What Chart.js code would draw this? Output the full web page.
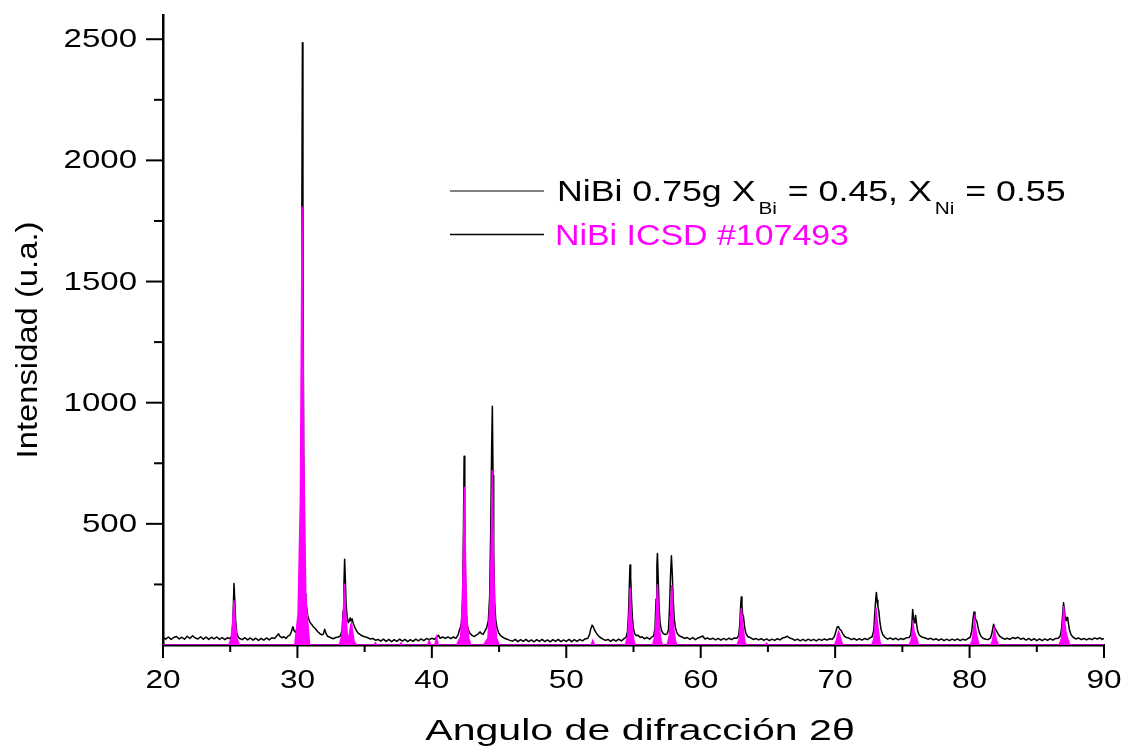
<!DOCTYPE html>
<html>
<head>
<meta charset="utf-8">
<script src="https://cdn.jsdelivr.net/npm/chart.js@4.4.1/dist/chart.umd.min.js"></script>
<style>
  html, body { margin: 0; padding: 0; background: #fff; }
  #wrap { width: 1132px; height: 750px; }
</style>
</head>
<body>
<div id="wrap"><canvas id="chartDrx" width="1132" height="750"></canvas></div>
<script>
// difractograma medido (2theta, intensidad)
const experimental = [
  [20.0,32],[20.2,24],[20.4,33],[20.6,23],[20.8,31],[21.0,35],[21.2,25],[21.4,32],[21.6,24],[21.8,36],
  [22.0,27],[22.2,38],[22.4,29],[22.6,25],[22.8,34],[23.0,24],[23.2,33],[23.4,23],[23.6,32],[23.8,25],
  [24.0,33],[24.2,23],[24.4,31],[24.6,22],[24.8,30],[25.0,26],[25.12,38],[25.2,95],[25.28,254],[25.34,185],
  [25.4,105],[25.48,52],[25.58,34],[25.7,27],[25.9,22],[26.1,30],[26.3,21],[26.5,29],[26.7,20],[26.9,28],
  [27.1,19],[27.3,27],[27.5,20],[27.7,29],[27.9,21],[28.1,30],[28.3,27],[28.5,40],[28.6,46],[28.7,36],
  [28.85,30],[29.0,34],[29.15,27],[29.3,37],[29.45,42],[29.55,55],[29.66,75],[29.75,60],[29.85,52],[29.95,62],
  [30.05,80],[30.15,130],[30.22,300],[30.28,850],[30.33,1800],[30.37,2485],[30.41,1750],[30.46,800],[30.52,360],[30.58,210],
  [30.63,172],[30.7,150],[30.77,120],[30.84,107],[30.95,92],[31.05,86],[31.2,74],[31.35,66],[31.5,56],[31.65,48],
  [31.8,42],[31.92,44],[32.03,65],[32.12,48],[32.25,36],[32.45,31],[32.65,26],[32.85,31],[33.05,33],[33.2,38],
  [33.32,60],[33.4,140],[33.46,250],[33.51,354],[33.56,280],[33.62,170],[33.7,115],[33.78,92],[33.86,100],[33.93,112],
  [34.0,98],[34.07,108],[34.15,90],[34.25,75],[34.38,60],[34.5,50],[34.65,44],[34.8,38],[35.0,34],[35.2,31],
  [35.4,25],[35.6,27],[35.8,20],[36.0,23],[36.2,16],[36.4,24],[36.6,15],[36.8,23],[37.0,14],[37.2,22],
  [37.4,15],[37.6,24],[37.8,16],[38.0,23],[38.2,14],[38.4,22],[38.6,15],[38.8,24],[39.0,17],[39.2,25],
  [39.4,18],[39.6,27],[39.8,22],[40.0,28],[40.2,24],[40.4,35],[40.5,40],[40.6,28],[40.8,33],[41.0,27],
  [41.2,34],[41.4,26],[41.6,33],[41.8,28],[41.95,42],[42.05,62],[42.12,72],[42.2,90],[42.28,180],[42.34,420],
  [42.4,779],[42.45,560],[42.5,260],[42.56,130],[42.64,80],[42.74,58],[42.85,47],[43.0,40],[43.15,35],[43.3,41],
  [43.45,46],[43.58,54],[43.7,47],[43.82,44],[43.95,58],[44.08,72],[44.2,100],[44.3,200],[44.38,480],[44.45,820],
  [44.5,985],[44.55,700],[44.6,380],[44.67,180],[44.75,105],[44.85,70],[44.97,50],[45.1,40],[45.25,33],[45.4,28],
  [45.6,24],[45.8,19],[46.0,16],[46.2,23],[46.4,14],[46.6,22],[46.8,15],[47.0,23],[47.2,14],[47.4,21],
  [47.6,13],[47.8,22],[48.0,15],[48.2,23],[48.4,14],[48.6,21],[48.8,13],[49.0,22],[49.2,15],[49.4,23],
  [49.6,14],[49.8,21],[50.0,15],[50.2,23],[50.4,14],[50.6,22],[50.8,15],[51.0,23],[51.2,17],[51.4,25],
  [51.6,28],[51.72,42],[51.82,66],[51.92,82],[52.0,76],[52.1,62],[52.2,52],[52.35,40],[52.5,32],[52.7,25],
  [52.9,19],[53.1,23],[53.3,15],[53.5,23],[53.7,16],[53.9,24],[54.1,17],[54.3,26],[54.45,32],[54.55,55],
  [54.63,130],[54.7,260],[54.74,330],[54.79,280],[54.85,190],[54.92,110],[55.0,65],[55.1,45],[55.22,38],[55.35,40],
  [55.5,31],[55.65,34],[55.8,26],[56.0,31],[56.2,24],[56.35,32],[56.5,38],[56.6,70],[56.68,190],[56.74,330],
  [56.78,378],[56.83,290],[56.9,160],[56.98,90],[57.08,60],[57.2,48],[57.35,43],[57.5,46],[57.6,62],[57.68,150],
  [57.75,280],[57.82,368],[57.88,300],[57.95,190],[58.03,110],[58.12,70],[58.25,48],[58.4,38],[58.6,33],[58.8,27],
  [59.0,31],[59.2,23],[59.4,31],[59.6,22],[59.8,29],[60.0,33],[60.15,37],[60.3,25],[60.5,29],[60.7,23],
  [60.9,28],[61.1,21],[61.3,27],[61.5,20],[61.7,27],[61.9,21],[62.1,28],[62.3,22],[62.5,29],[62.7,28],
  [62.82,40],[62.9,80],[62.97,160],[63.02,198],[63.07,160],[63.12,125],[63.18,118],[63.25,80],[63.35,50],[63.5,35],
  [63.7,30],[63.9,23],[64.1,27],[64.3,21],[64.5,26],[64.7,19],[64.9,25],[65.1,18],[65.3,24],[65.5,19],
  [65.7,26],[65.9,21],[66.1,29],[66.3,32],[66.45,36],[66.6,29],[66.8,26],[67.0,19],[67.2,24],[67.4,17],
  [67.6,23],[67.8,17],[68.0,24],[68.2,18],[68.4,23],[68.6,17],[68.8,24],[69.0,19],[69.2,25],[69.4,20],
  [69.6,26],[69.8,24],[69.95,36],[70.05,55],[70.15,74],[70.25,76],[70.35,64],[70.45,60],[70.55,48],[70.7,36],
  [70.85,31],[71.0,29],[71.2,22],[71.4,27],[71.6,20],[71.8,26],[72.0,20],[72.2,27],[72.4,22],[72.6,29],
  [72.75,34],[72.87,60],[72.95,130],[73.02,190],[73.07,217],[73.12,185],[73.18,160],[73.25,140],[73.32,100],[73.42,62],
  [73.55,42],[73.7,32],[73.9,24],[74.1,29],[74.3,22],[74.5,28],[74.7,21],[74.9,27],[75.1,23],[75.3,30],
  [75.5,31],[75.62,42],[75.7,80],[75.77,147],[75.83,110],[75.88,92],[75.94,105],[75.99,122],[76.05,90],[76.12,62],
  [76.22,45],[76.35,36],[76.5,32],[76.7,29],[76.9,24],[77.1,28],[77.3,21],[77.5,26],[77.7,19],[77.9,25],
  [78.1,18],[78.3,24],[78.5,18],[78.7,24],[78.9,19],[79.1,25],[79.3,18],[79.5,24],[79.7,20],[79.9,27],
  [80.05,32],[80.17,60],[80.26,110],[80.33,136],[80.4,118],[80.47,104],[80.55,96],[80.62,75],[80.72,52],[80.85,36],
  [81.0,28],[81.2,24],[81.4,23],[81.55,28],[81.65,45],[81.73,70],[81.79,86],[81.85,74],[81.92,66],[82.0,58],
  [82.1,48],[82.22,38],[82.4,30],[82.6,24],[82.8,28],[83.0,23],[83.2,31],[83.4,27],[83.6,32],[83.8,24],
  [84.0,28],[84.2,20],[84.4,27],[84.6,19],[84.8,26],[85.0,18],[85.2,25],[85.4,18],[85.6,25],[85.8,19],
  [86.0,26],[86.2,20],[86.4,27],[86.6,28],[86.75,38],[86.85,70],[86.93,130],[86.99,174],[87.05,150],[87.1,115],
  [87.17,100],[87.23,104],[87.29,114],[87.35,90],[87.43,62],[87.55,42],[87.7,32],[87.9,25],[88.1,29],[88.3,22],
  [88.5,27],[88.7,21],[88.9,27],[89.1,22],[89.3,29],[89.5,25],[89.7,30],[89.85,23],[90.0,27]
];

// patron de referencia NiBi ICSD #107493
const icsd = [
  [20.0,0],
  [24.9,0],[25.07,28],[25.18,92],[25.28,185],[25.38,92],[25.5,28],[25.68,0],
  [29.8,0],[30.05,130],[30.22,600],[30.35,1810],[30.47,800],[30.62,200],[30.9,0],
  [33.12,0],[33.3,38],[33.41,127],[33.5,254],[33.6,120],[33.72,40],[33.8,25],
  [33.87,45],[33.96,82],[34.02,90],[34.1,58],[34.22,14],[34.4,0],
  [35.7,0],[35.8,9],[35.9,0],
  [37.6,0],[37.7,8],[37.8,0],
  [39.68,0],[39.8,18],[39.92,0],
  [40.22,0],[40.35,33],[40.48,0],
  [41.85,0],[42.02,22],[42.14,32],[42.27,170],[42.33,330],[42.42,653],[42.51,330],[42.6,110],[42.75,25],[42.9,0],
  [43.85,0],[44.02,16],[44.17,28],[44.32,170],[44.4,360],[44.5,722],[44.59,360],[44.68,120],[44.82,28],[45.0,0],
  [51.85,0],[51.97,18],[52.1,0],
  [54.4,0],[54.56,35],[54.66,118],[54.75,236],[54.83,130],[54.92,60],[55.04,15],[55.15,0],
  [56.43,0],[56.59,38],[56.69,125],[56.78,251],[56.86,135],[56.94,60],[57.06,14],[57.16,0],
  [57.5,0],[57.66,37],[57.76,123],[57.85,247],[57.93,135],[58.01,60],[58.13,14],[58.24,0],
  [62.7,0],[62.85,23],[62.94,77],[63.02,154],[63.1,95],[63.18,62],[63.28,12],[63.4,0],
  [64.8,0],[64.9,7],[65.0,0],
  [69.95,0],[70.1,20],[70.19,45],[70.26,55],[70.35,40],[70.48,12],[70.6,0],
  [72.72,0],[72.87,23],[72.97,77],[73.05,154],[73.13,100],[73.21,60],[73.33,12],[73.45,0],
  [75.5,0],[75.65,18],[75.73,50],[75.8,87],[75.88,55],[75.97,40],[76.05,30],[76.2,0],
  [80.05,0],[80.2,18],[80.29,60],[80.37,106],[80.45,70],[80.55,35],[80.7,0],
  [81.55,0],[81.69,14],[81.77,40],[81.84,66],[81.92,40],[82.03,15],[82.15,0],
  [86.67,0],[86.82,25],[86.92,80],[87.0,161],[87.08,95],[87.17,55],[87.28,30],[87.45,0],
  [90.0,0]
];

const yTicks = [500, 1000, 1500, 2000, 2500];
const yMinorTicks = [250, 750, 1250, 1750, 2250];
const xTicks = [20, 30, 40, 50, 60, 70, 80, 90];
const xMinorTicks = [25, 35, 45, 55, 65, 75, 85];

const tituloX = "Angulo de difracción 2θ";
const tituloY = "Intensidad (u.a.)";
// leyenda serie 1 con subindices
const leyenda1 = [
  {t: "NiBi 0.75g X"}, {t: "Bi", sub: true}, {t: " = 0.45, X"}, {t: "Ni", sub: true}, {t: " = 0.55"}
];
const leyenda2 = "NiBi ICSD #107493";

const FUENTE = '"Liberation Sans", Arial, Helvetica, sans-serif';

// texto estirado en horizontal (la figura original esta ensanchada)
function textoEstirado(ctx, txt, x, y, sx, align) {
  const w = ctx.measureText(txt).width * sx;
  let x0 = x;
  if (align === 'center') x0 = x - w / 2;
  else if (align === 'right') x0 = x - w;
  ctx.save();
  ctx.translate(x0, y);
  ctx.scale(sx, 1);
  ctx.textAlign = 'left';
  ctx.fillText(txt, 0, 0);
  ctx.restore();
  return w;
}

function trazo(ctx, x1, y1, x2, y2) {
  ctx.beginPath();
  ctx.moveTo(x1, y1);
  ctx.lineTo(x2, y2);
  ctx.stroke();
}

const decoracion = {
  id: 'decoracion',
  afterDraw(chart) {
    const ctx = chart.ctx;
    const area = chart.chartArea;
    const sx = chart.scales.x, sy = chart.scales.y;
    ctx.save();
    ctx.strokeStyle = '#000';
    ctx.fillStyle = '#000';
    ctx.lineWidth = 2;
    ctx.textBaseline = 'alphabetic';

    // marcas eje y
    yTicks.forEach(v => { const p = sy.getPixelForValue(v); trazo(ctx, area.left - 17, p, area.left, p); });
    yMinorTicks.forEach(v => { const p = sy.getPixelForValue(v); trazo(ctx, area.left - 9, p, area.left, p); });
    // marcas eje x
    xTicks.forEach(v => { const p = sx.getPixelForValue(v); trazo(ctx, p, area.bottom, p, area.bottom + 13); });
    xMinorTicks.forEach(v => { const p = sx.getPixelForValue(v); trazo(ctx, p, area.bottom, p, area.bottom + 7); });

    ctx.font = '25px ' + FUENTE;
    yTicks.forEach(v => {
      textoEstirado(ctx, String(v), area.left - 26, sy.getPixelForValue(v) + 8, 1.32, 'right');
    });
    ctx.font = '26.5px ' + FUENTE;
    xTicks.forEach(v => {
      textoEstirado(ctx, String(v), sx.getPixelForValue(v), area.bottom + 43, 1.19, 'center');
    });

    // titulos
    ctx.font = '30px ' + FUENTE;
    textoEstirado(ctx, tituloX, 640, 740, 1.37, 'center');
    ctx.save();
    ctx.translate(37, 340);
    ctx.rotate(-Math.PI / 2);
    ctx.font = '29px ' + FUENTE;
    textoEstirado(ctx, tituloY, 0, 0, 1.13, 'center');
    ctx.restore();

    // leyenda
    ctx.lineWidth = 2;
    ctx.strokeStyle = '#808080';
    trazo(ctx, 450, 191, 544, 191);
    ctx.lineWidth = 1.5;
    ctx.strokeStyle = '#000';
    trazo(ctx, 450, 234.5, 544, 234.5);

    let px = 557;
    leyenda1.forEach(seg => {
      if (seg.sub) {
        ctx.font = '16px ' + FUENTE;
        px += 3;
        px += textoEstirado(ctx, seg.t, px, 214, 1.3, 'left');
        px += 1;
      } else {
        ctx.font = '30px ' + FUENTE;
        px += textoEstirado(ctx, seg.t, px, 201, 1.19, 'left');
      }
    });
    ctx.font = '30px ' + FUENTE;
    ctx.fillStyle = '#FF00FF';
    textoEstirado(ctx, leyenda2, 555, 245, 1.13, 'left');
    ctx.restore();
  }
};

new Chart(document.getElementById('chartDrx'), {
  type: 'line',
  data: {
    datasets: [
      {
        label: leyenda2,
        data: icsd,
        borderColor: '#FF00FF',
        backgroundColor: '#FF00FF',
        borderWidth: 1.5,
        fill: 'origin',
        pointRadius: 0,
        tension: 0,
        order: 0
      },
      {
        label: 'NiBi 0.75g',
        data: experimental,
        borderColor: '#000000',
        borderWidth: 1.5,
        borderJoinStyle: 'round',
        fill: false,
        pointRadius: 0,
        tension: 0,
        order: 1
      }
    ]
  },
  options: {
    responsive: false,
    animation: false,
    layout: { padding: { left: 163, right: 28, top: 15, bottom: 105 } },
    plugins: { legend: { display: false }, tooltip: { enabled: false } },
    scales: {
      x: {
        type: 'linear', min: 20, max: 90,
        ticks: { display: false },
        grid: { drawOnChartArea: false, drawTicks: false },
        border: { display: true, color: '#000', width: 2.5 }
      },
      y: {
        min: 0, max: 2600,
        ticks: { display: false },
        grid: { drawOnChartArea: false, drawTicks: false },
        border: { display: true, color: '#000', width: 2.5 }
      }
    }
  },
  plugins: [decoracion]
});
</script>
</body>
</html>
